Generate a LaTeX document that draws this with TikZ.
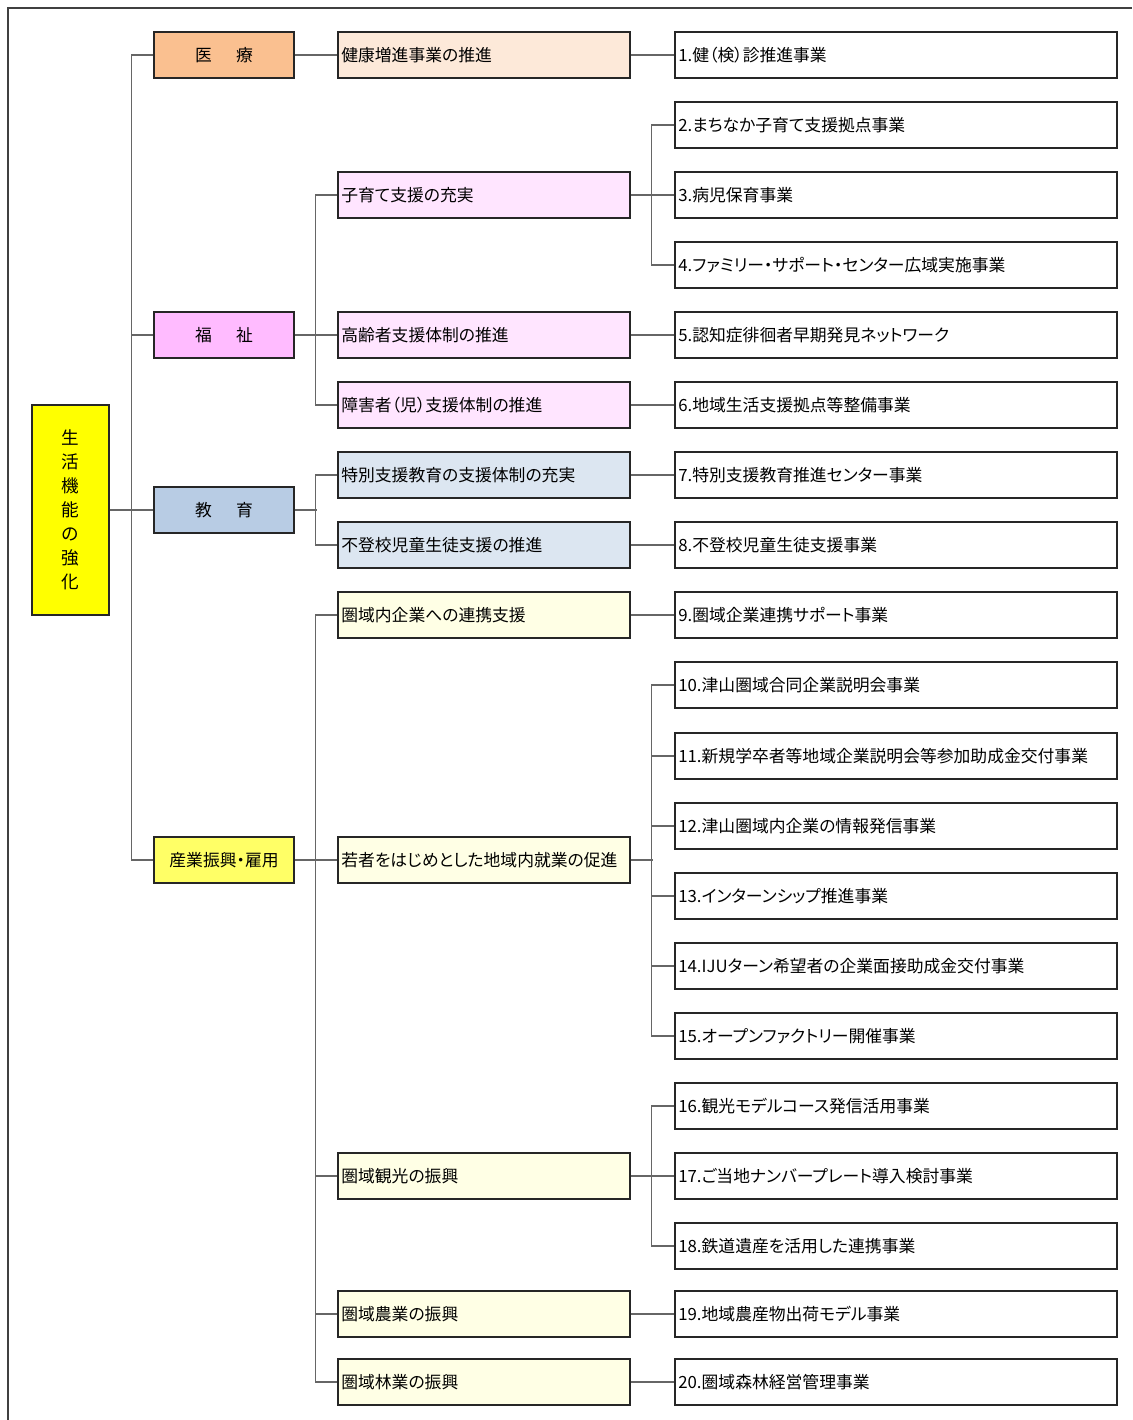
\documentclass[tikz,border=0pt]{standalone}
\usepackage{fontspec}
\setmainfont{Noto Sans CJK JP}[RawFeature={+palt}]
\usetikzlibrary{positioning}

\definecolor{rootfill}{RGB}{255,255,0}
\definecolor{medcat}{HTML}{FAC090}
\definecolor{medsub}{HTML}{FDE9D9}
\definecolor{welcat}{HTML}{FFBBFF}
\definecolor{welsub}{HTML}{FFE5FF}
\definecolor{educat}{HTML}{B8CCE4}
\definecolor{edusub}{HTML}{DCE6F1}
\definecolor{indcat}{HTML}{FFFF66}
\definecolor{indsub}{HTML}{FFFFE5}

\begin{document}
\begin{tikzpicture}
    %defining some styles
    [
        x=0.75pt, y=-0.75pt,
        font=\fontsize{12.6}{15}\selectfont,
        root/.style={rectangle, draw=black!85, fill=rootfill, line width=0.9pt, minimum width=57.75pt, minimum height=157.5pt, align=center, font=\fontsize{13.2}{18}\selectfont},
        field/.style={rectangle, draw=black!85, line width=0.9pt, minimum width=105pt, minimum height=34.5pt},
        policy/.style={rectangle, draw=black!85, line width=0.9pt, text width=214pt, inner xsep=2.5pt, minimum height=34.5pt, align=left},
        project/.style={rectangle, draw=black!85, fill=white, line width=0.9pt, text width=326.5pt, inner xsep=2.5pt, minimum height=34.5pt, align=left},
        link/.style={draw=black!60, line width=1pt},
    ]
    \useasboundingbox (0,0) rectangle (1132,1420);
    % frame
    \draw[black!75, line width=1pt] (8,1420) -- (8,8) -- (1132,8);

    % root
    \node (root) at (70.5,510) [root] {生\\活\\機\\能\\の\\強\\化};

    % fields
    \node (iryo)    at (224,55)  [field, fill=medcat] {医\hspace{1.45em}療};
    \node (fukushi) at (224,335) [field, fill=welcat] {福\hspace{1.45em}祉};
    \node (kyoiku)  at (224,510) [field, fill=educat] {教\hspace{1.45em}育};
    \node (sangyo)  at (224,860) [field, fill=indcat] {産業振興・雇用};

    % policies
    \node (kenko)    at (484,55)   [policy, fill=medsub] {健康増進事業の推進};
    \node (kosodate) at (484,195)  [policy, fill=welsub] {子育て支援の充実};
    \node (korei)    at (484,335)  [policy, fill=welsub] {高齢者支援体制の推進};
    \node (shogai)   at (484,405)  [policy, fill=welsub] {障害者（児）支援体制の推進};
    \node (tokushi)  at (484,475)  [policy, fill=edusub] {特別支援教育の支援体制の充実};
    \node (futoko)   at (484,545)  [policy, fill=edusub] {不登校児童生徒支援の推進};
    \node (renkei)   at (484,615)  [policy, fill=indsub] {圏域内企業への連携支援};
    \node (wakamono) at (484,860)  [policy, fill=indsub] {若者をはじめとした地域内就業の促進};
    \node (kanko)    at (484,1176) [policy, fill=indsub] {圏域観光の振興};
    \node (nogyo)    at (484,1314) [policy, fill=indsub] {圏域農業の振興};
    \node (ringyo)   at (484,1382) [policy, fill=indsub] {圏域林業の振興};

    % projects
    \node (j1)  at (896,55)   [project] {1.健（検）診推進事業};
    \node (j2)  at (896,125)  [project] {2.まちなか子育て支援拠点事業};
    \node (j3)  at (896,195)  [project] {3.病児保育事業};
    \node (j4)  at (896,265)  [project] {4.ファミリー・サポート・センター広域実施事業};
    \node (j5)  at (896,335)  [project] {5.認知症徘徊者早期発見ネットワーク};
    \node (j6)  at (896,405)  [project] {6.地域生活支援拠点等整備事業};
    \node (j7)  at (896,475)  [project] {7.特別支援教育推進センター事業};
    \node (j8)  at (896,545)  [project] {8.不登校児童生徒支援事業};
    \node (j9)  at (896,615)  [project] {9.圏域企業連携サポート事業};
    \node (j10) at (896,685)  [project] {10.津山圏域合同企業説明会事業};
    \node (j11) at (896,756)  [project] {11.新規学卒者等地域企業説明会等参加助成金交付事業};
    \node (j12) at (896,826)  [project] {12.津山圏域内企業の情報発信事業};
    \node (j13) at (896,896)  [project] {13.インターンシップ推進事業};
    \node (j14) at (896,966)  [project] {14.IJUターン希望者の企業面接助成金交付事業};
    \node (j15) at (896,1036) [project] {15.オープンファクトリー開催事業};
    \node (j16) at (896,1106) [project] {16.観光モデルコース発信活用事業};
    \node (j17) at (896,1176) [project] {17.ご当地ナンバープレート導入検討事業};
    \node (j18) at (896,1246) [project] {18.鉄道遺産を活用した連携事業};
    \node (j19) at (896,1314) [project] {19.地域農産物出荷モデル事業};
    \node (j20) at (896,1382) [project] {20.圏域森林経営管理事業};

    % root to fields
    \draw[link] (root.east) -- (kyoiku.west);
    \draw[link] (iryo.west) -- ++(-22,0) |- (sangyo.west);
    \draw[link] (fukushi.west) -- ++(-22,0);

    % fields to policies
    \draw[link] (iryo.east) -- (kenko.west);
    \draw[link] (fukushi.east) -- (korei.west);
    \draw[link] (kosodate.west) -- ++(-22,0) |- (shogai.west);
    \draw[link] (kyoiku.east) -- ++(22,0);
    \draw[link] (tokushi.west) -- ++(-22,0) |- (futoko.west);
    \draw[link] (sangyo.east) -- (wakamono.west);
    \draw[link] (renkei.west) -- ++(-22,0) |- (ringyo.west);
    \draw[link] (kanko.west) -- ++(-22,0);
    \draw[link] (nogyo.west) -- ++(-22,0);

    % policies to projects
    \draw[link] (kenko.east) -- (j1.west);
    \draw[link] (kosodate.east) -- (j3.west);
    \draw[link] (j2.west) -- ++(-23,0) |- (j4.west);
    \draw[link] (korei.east) -- (j5.west);
    \draw[link] (shogai.east) -- (j6.west);
    \draw[link] (tokushi.east) -- (j7.west);
    \draw[link] (futoko.east) -- (j8.west);
    \draw[link] (renkei.east) -- (j9.west);
    \draw[link] (wakamono.east) -- ++(22,0);
    \draw[link] (j10.west) -- ++(-23,0) |- (j15.west);
    \draw[link] (j11.west) -- ++(-23,0);
    \draw[link] (j12.west) -- ++(-23,0);
    \draw[link] (j13.west) -- ++(-23,0);
    \draw[link] (j14.west) -- ++(-23,0);
    \draw[link] (kanko.east) -- (j17.west);
    \draw[link] (j16.west) -- ++(-23,0) |- (j18.west);
    \draw[link] (nogyo.east) -- (j19.west);
    \draw[link] (ringyo.east) -- (j20.west);
\end{tikzpicture}
\end{document}
